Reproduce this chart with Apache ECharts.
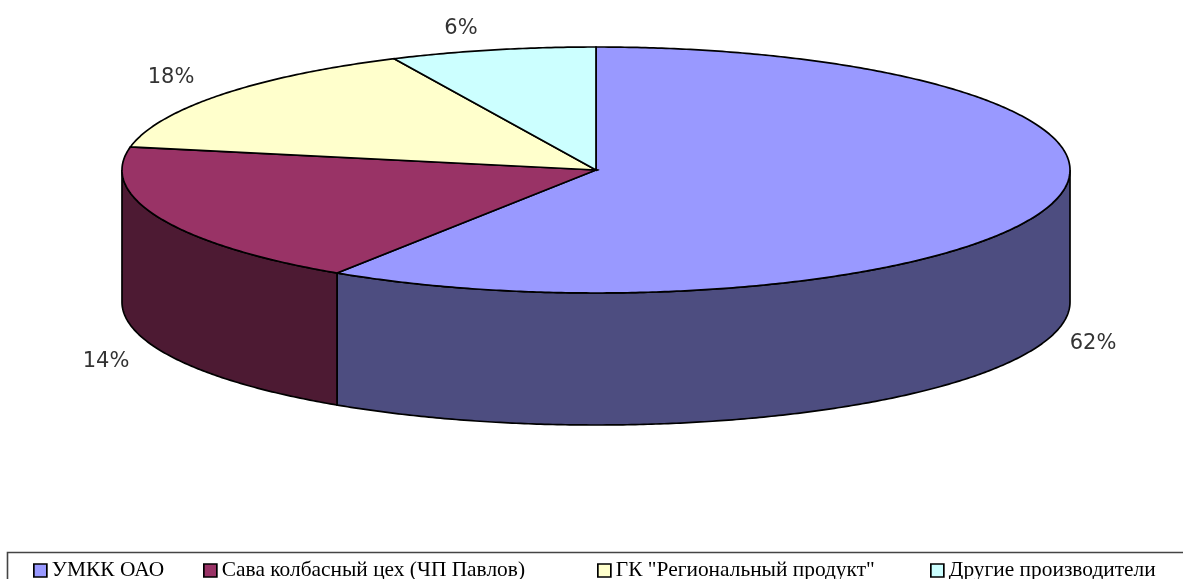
<!DOCTYPE html>
<html>
<head>
<meta charset="utf-8">
<style>
  html, body { margin: 0; padding: 0; background: #fff; }
  #chart { width: 1183px; height: 579px; }
</style>
<script src="https://cdn.jsdelivr.net/npm/echarts@6/dist/echarts.min.js"></script>
</head>
<body>
<div id="chart"></div>
<script>
const categories = ['УМКК ОАО', 'Сава колбасный цех (ЧП Павлов)', 'ГК "Региональный продукт"', 'Другие производители']
// 图上印的百分比
const printedLabels = ['62%', '14%', '18%', '6%']
// 扇区实际画出来的占比（从图上量的，和印的数字并不一致）
const drawnShares = [59.2, 18.8, 15, 7]
const topColors = ['#9999FF', '#993366', '#FFFFCC', '#CCFFFF']
const sideColors = ['#4D4D80', '#4D1A33', '#808066', '#668080']

// 椭圆饼的位置
const CX = 596
const CY = 170
const RX = 474
const RY = 123
const DEPTH = 132

const LABEL_FONT = '21px "DejaVu Sans"'
const labelPositions = [[1093, 344], [106, 362], [171, 78], [461, 29]]
const legendLefts = [33, 203, 597, 930]

// deg 从正上方顺时针算
function rimPoint(deg, dy) {
  const rad = (deg * Math.PI) / 180
  return [CX + RX * Math.sin(rad), CY - RY * Math.cos(rad) + (dy || 0)]
}

function arcPoints(from, to, dy) {
  const pts = []
  const steps = Math.max(1, Math.ceil(Math.abs(to - from) * 2))
  for (let i = 0; i <= steps; i++) {
    pts.push(rimPoint(from + ((to - from) * i) / steps, dy))
  }
  return pts
}

const total = drawnShares.reduce((a, b) => a + b, 0)
let acc = 0
const series = categories.map((name, i) => {
  const start = (acc / total) * 360
  acc += drawnShares[i]
  const end = (acc / total) * 360
  return {
    type: 'custom',
    name: name,
    coordinateSystem: 'none',
    itemStyle: { color: topColors[i] },
    silent: true,
    animation: false,
    data: [[start, end]],
    renderItem(params, api) {
      const from = api.value(0)
      const to = api.value(1)
      const children = []
      // 侧面只有正面半圈看得见
      const sideFrom = Math.max(from, 90)
      const sideTo = Math.min(to, 270)
      if (sideTo > sideFrom) {
        children.push({
          type: 'polygon',
          shape: {
            points: arcPoints(sideFrom, sideTo, 0).concat(arcPoints(sideTo, sideFrom, DEPTH)),
          },
          style: { fill: sideColors[i], stroke: '#000', lineWidth: 1.7 },
        })
      }
      children.push({
        type: 'polygon',
        shape: { points: [[CX, CY]].concat(arcPoints(from, to, 0)) },
        style: { fill: topColors[i], stroke: '#000', lineWidth: 1.7 },
      })
      children.push({
        type: 'text',
        style: {
          x: labelPositions[i][0],
          y: labelPositions[i][1],
          text: printedLabels[i],
          font: LABEL_FONT,
          fill: '#333',
          align: 'center',
          verticalAlign: 'middle',
        },
      })
      return { type: 'group', children: children }
    },
  }
})

const legends = categories.map((name, i) => ({
  data: [name],
  left: legendLefts[i],
  top: 560,
  padding: 0,
  itemWidth: 13,
  itemHeight: 13,
  itemGap: 0,
  icon: 'rect',
  selectedMode: false,
  itemStyle: { borderColor: '#000', borderWidth: 1.7 },
  textStyle: {
    fontFamily: '"Liberation Serif"',
    fontSize: 21.4,
    color: '#000',
  },
}))

const chart = echarts.init(document.getElementById('chart'), null, { renderer: 'canvas' })
chart.setOption({
  backgroundColor: '#fff',
  animation: false,
  legend: legends,
  graphic: [
    {
      type: 'rect',
      silent: true,
      shape: { x: 7.5, y: 552.5, width: 1200, height: 40 },
      style: { fill: 'none', stroke: '#444', lineWidth: 1.6 },
    },
  ],
  series: series,
})
</script>
</body>
</html>
